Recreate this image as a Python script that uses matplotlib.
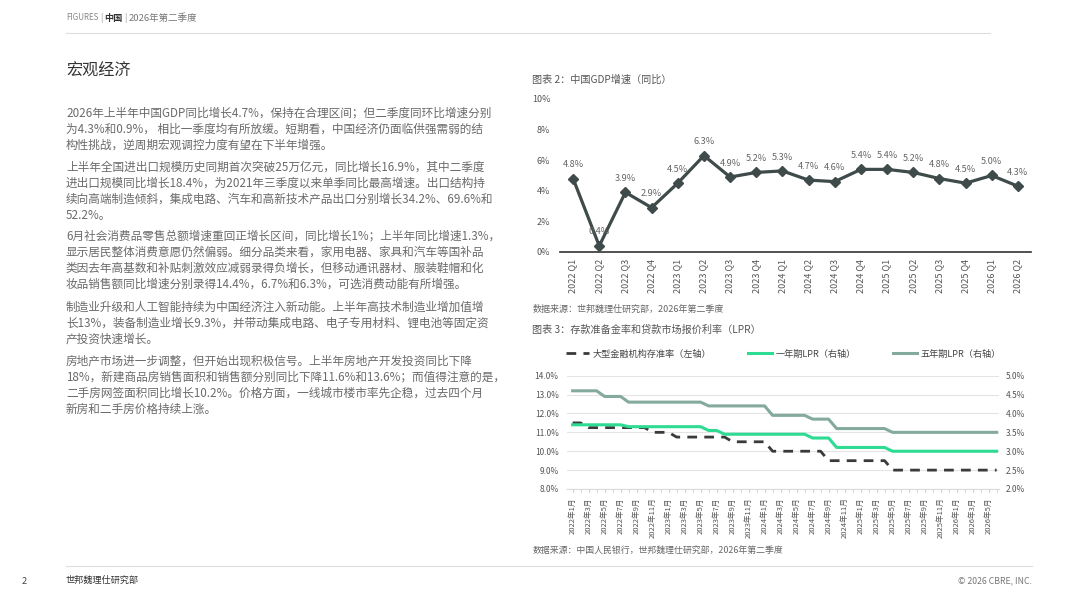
import matplotlib
matplotlib.use("Agg")
import matplotlib.pyplot as plt
from matplotlib.lines import Line2D

plt.rcParams['font.family'] = ['Noto Sans CJK SC', 'DejaVu Sans']

# --- data ---
gdp_quarters = ["2022 Q1", "2022 Q2", "2022 Q3", "2022 Q4",
                "2023 Q1", "2023 Q2", "2023 Q3", "2023 Q4",
                "2024 Q1", "2024 Q2", "2024 Q3", "2024 Q4",
                "2025 Q1", "2025 Q2", "2025 Q3", "2025 Q4",
                "2026 Q1", "2026 Q2"]
gdp_growth = [4.8, 0.4, 3.9, 2.9, 4.5, 6.3, 4.9, 5.2, 5.3, 4.7, 4.6, 5.4,
              5.4, 5.2, 4.8, 4.5, 5.0, 4.3]

# monthly, 2022-01 .. 2026-06
rrr_large = [11.5, 11.5, 11.25, 11.25, 11.25, 11.25, 11.25, 11.25, 11.25, 11.25,
             11.0, 11.0, 11.0, 10.75, 10.75, 10.75, 10.75, 10.75, 10.75, 10.75,
             10.5, 10.5, 10.5, 10.5, 10.5, 10.0, 10.0, 10.0, 10.0, 10.0,
             10.0, 10.0, 9.5, 9.5, 9.5, 9.5, 9.5, 9.5, 9.5, 9.5,
             9.0, 9.0, 9.0, 9.0, 9.0, 9.0, 9.0, 9.0, 9.0, 9.0,
             9.0, 9.0, 9.0, 9.0]
lpr_1y = [3.70, 3.70, 3.70, 3.70, 3.70, 3.70, 3.70, 3.65, 3.65, 3.65,
          3.65, 3.65, 3.65, 3.65, 3.65, 3.65, 3.65, 3.55, 3.55, 3.45,
          3.45, 3.45, 3.45, 3.45, 3.45, 3.45, 3.45, 3.45, 3.45, 3.45,
          3.35, 3.35, 3.35, 3.10, 3.10, 3.10, 3.10, 3.10, 3.10, 3.10,
          3.00, 3.00, 3.00, 3.00, 3.00, 3.00, 3.00, 3.00, 3.00, 3.00,
          3.00, 3.00, 3.00, 3.00]
lpr_5y = [4.60, 4.60, 4.60, 4.60, 4.45, 4.45, 4.45, 4.30, 4.30, 4.30,
          4.30, 4.30, 4.30, 4.30, 4.30, 4.30, 4.30, 4.20, 4.20, 4.20,
          4.20, 4.20, 4.20, 4.20, 4.20, 3.95, 3.95, 3.95, 3.95, 3.95,
          3.85, 3.85, 3.85, 3.60, 3.60, 3.60, 3.60, 3.60, 3.60, 3.60,
          3.50, 3.50, 3.50, 3.50, 3.50, 3.50, 3.50, 3.50, 3.50, 3.50,
          3.50, 3.50, 3.50, 3.50]
month_labels = ["2022年1月", "2022年3月", "2022年5月", "2022年7月", "2022年9月", "2022年11月",
                "2023年1月", "2023年3月", "2023年5月", "2023年7月", "2023年9月", "2023年11月",
                "2024年1月", "2024年3月", "2024年5月", "2024年7月", "2024年9月", "2024年11月",
                "2025年1月", "2025年3月", "2025年5月", "2025年7月", "2025年9月", "2025年11月",
                "2026年1月", "2026年3月", "2026年5月"]

paragraphs = [
    ["2026年上半年中国GDP同比增长4.7%，保持在合理区间；但二季度同环比增速分别",
     "为4.3%和0.9%， 相比一季度均有所放缓。短期看，中国经济仍面临供强需弱的结",
     "构性挑战，逆周期宏观调控力度有望在下半年增强。"],
    ["上半年全国进出口规模历史同期首次突破25万亿元，同比增长16.9%，其中二季度",
     "进出口规模同比增长18.4%，为2021年三季度以来单季同比最高增速。出口结构持",
     "续向高端制造倾斜，集成电路、汽车和高新技术产品出口分别增长34.2%、69.6%和",
     "52.2%。"],
    ["6月社会消费品零售总额增速重回正增长区间，同比增长1%；上半年同比增速1.3%，",
     "显示居民整体消费意愿仍然偏弱。细分品类来看，家用电器、家具和汽车等国补品",
     "类因去年高基数和补贴刺激效应减弱录得负增长，但移动通讯器材、服装鞋帽和化",
     "妆品销售额同比增速分别录得14.4%，6.7%和6.3%，可选消费动能有所增强。"],
    ["制造业升级和人工智能持续为中国经济注入新动能。上半年高技术制造业增加值增",
     "长13%，装备制造业增长9.3%，并带动集成电路、电子专用材料、锂电池等固定资",
     "产投资快速增长。"],
    ["房地产市场进一步调整，但开始出现积极信号。上半年房地产开发投资同比下降",
     "18%，新建商品房销售面积和销售额分别同比下降11.6%和13.6%；而值得注意的是，",
     "二手房网签面积同比增长10.2%。价格方面，一线城市楼市率先企稳，过去四个月",
     "新房和二手房价格持续上涨。"],
]
para_tops = [113, 167, 236, 307, 361]

W, H = 1067, 600
fig = plt.figure(figsize=(W / 100, H / 100), dpi=100)
fig.patch.set_facecolor("white")


def rect(x0, y0, x1, y1):
    return [x0 / W, 1 - y1 / H, (x1 - x0) / W, (y1 - y0) / H]


def put(x, y, s, **kw):
    fig.text(x / W, 1 - y / H, s, **kw)


TXT = "#6a6a6a"
DARK = "#3e4b4a"

# --- header / footer ---
put(66, 18, "FIGURES", fontsize=5.8, color="#888888", va="center")
put(100, 18, "|", fontsize=6, color="#888888", va="center")
put(104, 18, "中国", fontsize=6.6, color="#333333", va="center", fontweight="bold")
put(124, 18, "|", fontsize=6, color="#888888", va="center")
put(129, 18, "2026年第二季度", fontsize=6.8, color="#777777", va="center")
fig.add_artist(Line2D([66 / W, 990 / W], [1 - 33 / H] * 2, color="#dddddd", lw=0.8))
fig.add_artist(Line2D([66 / W, 1032 / W], [1 - 566 / H] * 2, color="#dddddd", lw=0.8))
put(22, 581, "2", fontsize=6.5, color="#444444", va="center")
put(66, 580, "世邦魏理仕研究部", fontsize=6.6, color="#333333", va="center")
put(1032, 581, "© 2026 CBRE, INC.", fontsize=6.3, color="#777777", va="center", ha="right")

# --- left text column ---
put(66, 71, "宏观经济", fontsize=11.6, color="#333333", va="center")
for top, lines in zip(para_tops, paragraphs):
    for i, line in enumerate(lines):
        put(66, top + i * 16, line, fontsize=8.4, color=TXT, va="center")

# --- chart 2: GDP ---
put(532, 80, "图表 2：中国GDP增速（同比）", fontsize=7.3, color="#555555", va="center")
ax = fig.add_axes(rect(560, 99, 1031, 252))
xs = list(range(len(gdp_growth)))
ax.plot(xs, gdp_growth, color=DARK, lw=2.3, marker="D", ms=5.5, zorder=3)
for x, v in zip(xs, gdp_growth):
    ax.annotate(f"{v:.1f}%", (x, v), xytext=(0, 10), textcoords="offset points",
                ha="center", va="center", fontsize=6.6, color="#666666")
ax.set_xlim(-0.5, len(gdp_growth) - 0.5)
ax.set_ylim(0, 10)
ax.set_yticks([0, 2, 4, 6, 8, 10])
ax.set_yticklabels([f"{t}%" for t in [0, 2, 4, 6, 8, 10]])
ax.set_xticks(xs)
ax.set_xticklabels(gdp_quarters, rotation=90)
ax.tick_params(axis="both", length=0, labelsize=6.5, labelcolor="#555555")
ax.tick_params(axis="y", pad=7)
ax.tick_params(axis="x", pad=5)
for s in ["top", "right", "left"]:
    ax.spines[s].set_visible(False)
ax.spines["bottom"].set_color("#333333")
ax.spines["bottom"].set_linewidth(1.2)
ax.patch.set_alpha(0)
put(533, 309, "数据来源：世邦魏理仕研究部，2026年第二季度", fontsize=6.5, color="#666666", va="center")

# --- chart 3: RRR & LPR ---
put(532, 330, "图表 3：存款准备金率和贷款市场报价利率（LPR）", fontsize=7.3, color="#555555", va="center")
ax3 = fig.add_axes(rect(567, 375.7, 999, 489))
axr = ax3.twinx()
mx = list(range(len(rrr_large)))
l1, = ax3.plot(mx, rrr_large, color="#3a3a3a", lw=2.0, dashes=(3.5, 2.6), zorder=3,
               label="大型金融机构存准率（左轴）")
l2, = axr.plot(mx, lpr_1y, color="#2edb92", lw=2.2, zorder=3, label="一年期LPR（右轴）")
l3, = axr.plot(mx, lpr_5y, color="#84aa9d", lw=2.2, zorder=3, label="五年期LPR（右轴）")
ax3.set_xlim(-0.7, len(rrr_large) - 0.7)
ax3.set_ylim(8, 14)
axr.set_ylim(2, 5)
ax3.set_yticks([8, 9, 10, 11, 12, 13, 14])
ax3.set_yticklabels([f"{t:.1f}%" for t in [8, 9, 10, 11, 12, 13, 14]])
axr.set_yticks([2.0, 2.5, 3.0, 3.5, 4.0, 4.5, 5.0])
axr.set_yticklabels([f"{t:.1f}%" for t in [2.0, 2.5, 3.0, 3.5, 4.0, 4.5, 5.0]])
ax3.set_xticks(mx[::2])
ax3.set_xticklabels(month_labels, rotation=90)
ax3.set_xticks(mx, minor=True)
ax3.grid(axis="y", color="#e4e4e4", lw=0.8)
ax3.set_axisbelow(True)
ax3.tick_params(axis="y", length=0, labelsize=6, labelcolor="#555555", pad=6)
axr.tick_params(axis="y", length=0, labelsize=6, labelcolor="#555555", pad=5)
ax3.tick_params(axis="x", which="both", length=2, color="#cccccc", labelsize=5.5,
                labelcolor="#555555", pad=4)
for a in (ax3, axr):
    for s in ["top", "right", "left"]:
        a.spines[s].set_visible(False)
    a.spines["bottom"].set_color("#dddddd")
    a.spines["bottom"].set_linewidth(0.8)
axr.patch.set_alpha(0)
ax3.legend(handles=[l1, l2, l3], loc="center", bbox_to_anchor=(0.5, 1.19),
           ncol=3, frameon=False, fontsize=6.6, handlelength=2.6, columnspacing=4.0,
           handletextpad=0.4, labelcolor="#444444")
put(533, 550, "数据来源：中国人民银行，世邦魏理仕研究部，2026年第二季度", fontsize=6.4, color="#666666", va="center")

fig.savefig("out.png", dpi=100, facecolor="white")
